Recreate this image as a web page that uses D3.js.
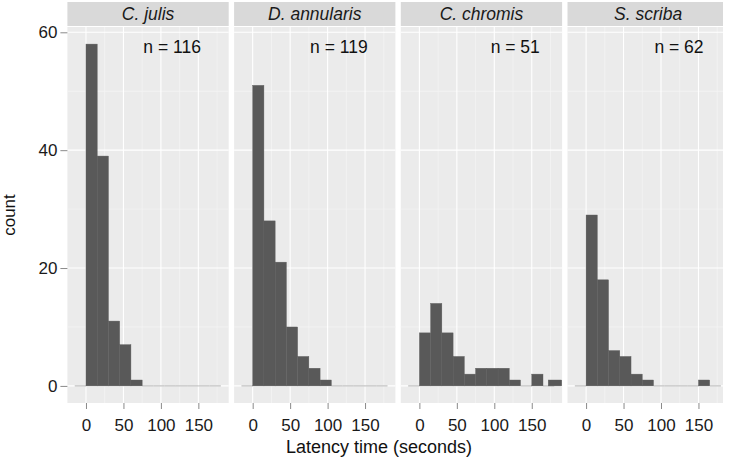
<!DOCTYPE html>
<html>
<head>
<meta charset="utf-8">
<script src="https://cdn.jsdelivr.net/npm/d3@7"></script>
<style>
  html, body { margin: 0; padding: 0; background: #ffffff; }
  svg { display: block; font-family: "Liberation Sans", Arial, sans-serif; }
</style>
</head>
<body>
<svg id="chart" width="730" height="463"></svg>
<script>
// ---- data ----
const species = ["C. julis", "D. annularis", "C. chromis", "S. scriba"];
const nLabels = ["n = 116", "n = 119", "n = 51", "n = 62"];
// histogram bins (seconds): left edges, each bin 15 s wide
const binStarts = [-15, 0, 15, 30, 45, 60, 75, 90, 105, 120, 135, 150, 165];
const binWidth = 15;
const countsJulis     = [0, 58, 39, 11, 7, 1, 0, 0, 0, 0, 0, 0, 0];
const countsAnnularis = [0, 51, 28, 21, 10, 5, 3, 1, 0, 0, 0, 0, 0];
const countsChromis   = [0, 9, 14, 9, 5, 2, 3, 3, 3, 1, 0, 2, 0];
const countsScriba    = [0, 29, 18, 6, 5, 2, 1, 0, 0, 0, 0, 1, 0];
// extra tail bar seen in C. chromis (seconds range and count)
const chromisTail = { x0: 172, x1: 190, count: 1 };
const xTicks = [0, 50, 100, 150];
const xMinor = [25, 75, 125, 175];
const yTicks = [0, 20, 40, 60];
const yMinor = [10, 30, 50];

const countsBySpecies = [countsJulis, countsAnnularis, countsChromis, countsScriba];

// ---- layout ----
const svg = d3.select("#chart");
const panelTop = 27, panelBottom = 403;
const stripTop = 2;
const firstLeft = 67.4, panelW = 161.3, gap = 5.4;
const imageRight = 723;
const xDomain = [-24.8, 190.5];
const yDomain = [-2.9, 60.9];

const y = d3.scaleLinear().domain(yDomain).range([panelBottom, panelTop]);

const nLabelX = [115, 115, 128, 124];
const nLabelY = 56.5;

species.forEach((sp, i) => {
  const left = firstLeft + i * (panelW + gap);
  const x = d3.scaleLinear().domain(xDomain).range([left, left + panelW]);
  const w = Math.min(panelW, imageRight - left);
  const g = svg.append("g");

  // strip
  g.append("rect").attr("x", left).attr("y", stripTop)
    .attr("width", w).attr("height", panelTop - stripTop - 1)
    .attr("fill", "#d9d9d9");
  g.append("text").attr("x", left + panelW / 2).attr("y", 19.5)
    .attr("text-anchor", "middle").attr("font-style", "italic")
    .attr("font-size", 17.5).attr("fill", "#1a1a1a").text(sp);

  // panel background
  g.append("rect").attr("x", left).attr("y", panelTop)
    .attr("width", w).attr("height", panelBottom - panelTop)
    .attr("fill", "#ebebeb");

  // minor grid
  g.selectAll(".xm").data(xMinor.filter(d => x(d) < left + w)).join("line")
    .attr("x1", d => x(d)).attr("x2", d => x(d))
    .attr("y1", panelTop).attr("y2", panelBottom)
    .attr("stroke", "#f4f4f4").attr("stroke-width", 0.8);
  g.selectAll(".ym").data(yMinor).join("line")
    .attr("y1", d => y(d)).attr("y2", d => y(d))
    .attr("x1", left).attr("x2", left + w)
    .attr("stroke", "#f4f4f4").attr("stroke-width", 0.8);
  // major grid
  g.selectAll(".xg").data(xTicks).join("line")
    .attr("x1", d => x(d)).attr("x2", d => x(d))
    .attr("y1", panelTop).attr("y2", panelBottom)
    .attr("stroke", "#ffffff").attr("stroke-width", 1.1);
  g.selectAll(".yg").data(yTicks).join("line")
    .attr("y1", d => y(d)).attr("y2", d => y(d))
    .attr("x1", left).attr("x2", left + w)
    .attr("stroke", "#ffffff").attr("stroke-width", 1.1);

  // bars
  const bins = binStarts.map((s, k) => ({ x0: s, x1: s + binWidth, count: countsBySpecies[i][k] }));
  if (i === 2) bins.push(chromisTail);
  // zero-count baseline segments
  g.selectAll(".zero").data(bins.filter(b => b.count === 0)).join("line")
    .attr("x1", d => x(d.x0)).attr("x2", d => x(d.x1))
    .attr("y1", y(0)).attr("y2", y(0))
    .attr("stroke", "#b4b4b4").attr("stroke-width", 1);
  g.selectAll(".bar").data(bins.filter(b => b.count > 0)).join("rect")
    .attr("x", d => x(d.x0)).attr("width", d => x(d.x1) - x(d.x0))
    .attr("y", d => y(d.count)).attr("height", d => y(0) - y(d.count))
    .attr("fill", "#595959").attr("stroke", "#5e5e5e").attr("stroke-width", 0.4);

  // n label
  g.append("text").attr("x", x(nLabelX[i])).attr("y", y(nLabelY))
    .attr("text-anchor", "middle").attr("font-size", 17.5)
    .attr("fill", "#111").text(nLabels[i]);

  // x axis ticks + labels
  const xa = g.append("g").attr("transform", `translate(0,${panelBottom})`)
    .call(d3.axisBottom(x).tickValues(xTicks).tickSize(6).tickPadding(10).tickFormat(d3.format("d")));
  xa.select(".domain").remove();
  xa.selectAll(".tick line").attr("stroke", "#8a8a8a");
  xa.selectAll(".tick text").attr("font-size", 17).attr("fill", "#1a1a1a")
    .attr("font-family", "Liberation Sans, Arial, sans-serif");
});

// y axis
const ya = svg.append("g").attr("transform", `translate(${firstLeft},0)`)
  .call(d3.axisLeft(y).tickValues(yTicks).tickSize(7).tickPadding(3).tickFormat(d3.format("d")));
ya.select(".domain").remove();
ya.selectAll(".tick line").attr("stroke", "#8a8a8a");
ya.selectAll(".tick text").attr("font-size", 17).attr("fill", "#1a1a1a")
  .attr("font-family", "Liberation Sans, Arial, sans-serif");

// axis titles
svg.append("text").attr("x", 379).attr("y", 453)
  .attr("text-anchor", "middle").attr("font-size", 18).attr("fill", "#111")
  .text("Latency time (seconds)");
svg.append("text").attr("transform", `translate(15,${(panelTop + panelBottom) / 2}) rotate(-90)`)
  .attr("text-anchor", "middle").attr("font-size", 17).attr("fill", "#111")
  .text("count");
</script>
</body>
</html>
